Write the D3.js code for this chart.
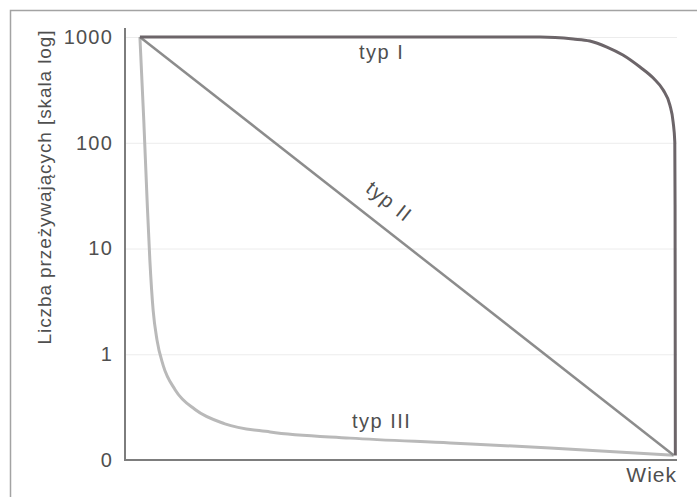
<!DOCTYPE html>
<html>
<head>
<meta charset="utf-8">
<script src="https://cdn.jsdelivr.net/npm/d3@7"></script>
<style>
  body { margin: 0; background: #fff; }
  svg { display: block; font-family: "Liberation Sans", Arial, sans-serif; }
</style>
</head>
<body>
<div id="chart"></div>
<script>
// tick values on the log axis and how they are printed (0.1 is printed as "0")
var tickValues = [0.1, 1, 10, 100, 1000];
var tickLabels = ["0", "1", "10", "100", "1000"];

// age in % of max lifespan, survivors
var typ1Age = [2.7, 75.2, 81.2, 84.2, 87.3, 90.2, 93.3, 95.7, 97.5, 98.7, 99.3, 99.6, 99.65, 99.7];
var typ1Val = [1000, 998, 957, 917, 804, 676, 520, 409, 315, 228, 157, 102, 25.8, 0.11];

var typ2Age = [2.7, 99.4];
var typ2Val = [1000, 0.111];

var typ3Age = [2.7, 3.4, 4.0, 4.5, 5.1, 5.8, 6.9, 9.1, 12.7, 18.1, 26.3, 40.8, 58.9, 77.0, 99.4];
var typ3Val = [1000, 164, 28.8, 7.8, 2.6, 1.36, 0.79, 0.46, 0.30, 0.22, 0.184, 0.161, 0.145, 0.130, 0.111];

var seriesNames = ["typ I", "typ II", "typ III"];

var W = 697, H = 497;
var textColor = "#4f4f4f";
var svg = d3.select("#chart").append("svg")
  .attr("width", W)
  .attr("height", H);

// outer frame
svg.append("rect")
  .attr("x", 10.5).attr("y", 10.5)
  .attr("width", 720).attr("height", 520)
  .attr("fill", "none")
  .attr("stroke", "#a3a3a3")
  .attr("stroke-width", 1.5);

var x = d3.scaleLinear().domain([0, 100]).range([125, 677]);
var y = d3.scaleLog().domain([0.1, 1000]).range([460, 37]);

// faint gridlines
svg.append("g")
  .attr("transform", "translate(125,0)")
  .call(d3.axisRight(y).tickValues(tickValues).tickSize(552).tickFormat(""))
  .call(g => g.select(".domain").remove())
  .selectAll("line")
  .attr("stroke", "#ececec")
  .attr("stroke-width", 1);

// tick labels
svg.append("g")
  .attr("transform", "translate(125,0)")
  .call(d3.axisLeft(y).tickValues(tickValues).tickSize(0).tickPadding(12)
    .tickFormat((d, i) => tickLabels[i]))
  .call(g => g.select(".domain").remove())
  .selectAll("text")
  .attr("font-size", "20px")
  .attr("letter-spacing", "1.2px")
  .attr("fill", textColor);

// axis lines
svg.append("line")
  .attr("x1", 125).attr("x2", 125)
  .attr("y1", 28).attr("y2", 461)
  .attr("stroke", "#7d7d7d").attr("stroke-width", 2);
svg.append("line")
  .attr("x1", 124).attr("x2", x.range()[1])
  .attr("y1", 460).attr("y2", 460)
  .attr("stroke", "#7d7d7d").attr("stroke-width", 2);

var line = d3.line()
  .x(d => x(d[0]))
  .y(d => y(d[1]))
  .curve(d3.curveMonotoneX);

svg.append("path")
  .datum(d3.zip(typ3Age, typ3Val))
  .attr("d", line)
  .attr("fill", "none")
  .attr("stroke", "#b9b9b9")
  .attr("stroke-width", 3);

svg.append("path")
  .datum(d3.zip(typ2Age, typ2Val))
  .attr("d", line)
  .attr("fill", "none")
  .attr("stroke", "#8c8c8c")
  .attr("stroke-width", 2.5);

svg.append("path")
  .datum(d3.zip(typ1Age, typ1Val))
  .attr("d", line)
  .attr("fill", "none")
  .attr("stroke", "#6c6569")
  .attr("stroke-width", 3);

// curve labels
var labelStyle = function(t) {
  t.attr("font-size", "20px")
    .attr("letter-spacing", "1.5px")
    .attr("fill", textColor)
    .attr("text-anchor", "middle");
};

svg.append("text")
  .attr("x", x(46.5)).attr("y", 59)
  .text(seriesNames[0])
  .call(labelStyle);

var angle = Math.atan2(y(typ2Val[1]) - y(typ2Val[0]), x(typ2Age[1]) - x(typ2Age[0])) * 180 / Math.PI;
svg.append("text")
  .attr("transform", "translate(" + 385 + "," + 207 + ") rotate(" + angle + ")")
  .text(seriesNames[1])
  .call(labelStyle);

svg.append("text")
  .attr("x", x(46.5)).attr("y", 428)
  .text(seriesNames[2])
  .call(labelStyle);

// axis titles
svg.append("text")
  .attr("x", 677).attr("y", 482)
  .attr("text-anchor", "end")
  .attr("font-size", "21px")
  .attr("letter-spacing", "1px")
  .attr("fill", textColor)
  .text("Wiek");

svg.append("text")
  .attr("transform", "translate(51,187) rotate(-90)")
  .attr("text-anchor", "middle")
  .attr("font-size", "19px")
  .attr("letter-spacing", "0.9px")
  .attr("fill", textColor)
  .text("Liczba przeżywających [skala log]");
</script>
</body>
</html>
